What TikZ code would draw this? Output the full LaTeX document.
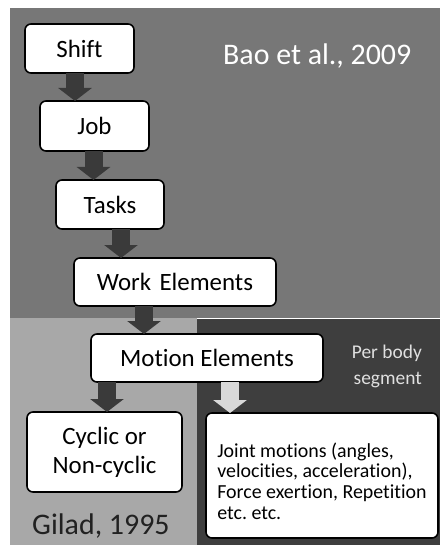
\documentclass[tikz,border=0pt]{standalone}
\usepackage{fontspec}
\setmainfont{Carlito}[Ligatures=CommonOff]
\frenchspacing
\usetikzlibrary{arrows.meta}
\definecolor{topgrey}{HTML}{777777}
\definecolor{leftgrey}{HTML}{A8A8A8}
\definecolor{rightdark}{HTML}{3E3E3E}
\definecolor{arrowdark}{HTML}{3A3A3A}
\definecolor{arrowlight}{HTML}{D9D9D9}
\definecolor{notegrey}{HTML}{E0E0E0}
\tikzset{
  stagebox/.style={draw=black, line width=1.6bp, fill=white, rounded corners=6bp,
    inner sep=0pt, outer sep=0pt, align=center,
    font=\fontsize{25}{29}\selectfont},
  fatarrow/.style={line width=18bp, draw=arrowdark,
    -{Triangle[width=33bp,length=13bp,fill=arrowdark]}},
  lightarrow/.style={line width=18bp, draw=arrowlight,
    -{Triangle[width=33bp,length=13bp,fill=arrowlight]}}
}
\begin{document}
\begin{tikzpicture}[x=1bp,y=-1bp]
\useasboundingbox (0,0) rectangle (440,545);
% background panels
\fill[topgrey] (10,8) rectangle (440,318);
\fill[leftgrey] (10,318) rectangle (197,545);
\fill[rightdark] (197,319) rectangle (440,545);

% hierarchy boxes
\node[stagebox, minimum width=109bp, minimum height=49bp] (shift) at (79.5,48.5) {Shift};
\node[stagebox, minimum width=109bp, minimum height=50bp] (job) at (94.5,126) {Job};
\node[stagebox, minimum width=108bp, minimum height=49bp] (tasks) at (110,204.5) {Tasks};
\node[stagebox, minimum width=202bp, minimum height=48bp] (work) at (175,282) {Work\,\,Elements};
\node[stagebox, minimum width=232bp, minimum height=48bp] (motion) at (207,358) {Motion Elements};
\node[stagebox, minimum width=155bp, minimum height=80bp] (cyclic) at (104.5,452) {Cyclic or\\Non-cyclic};
\node[stagebox, minimum width=232bp, minimum height=125bp, align=left,
      font=\fontsize{20}{21}\selectfont] (joint) at (322,475.5)
  {\rule{0pt}{26bp}Joint motions (angles,\\velocities, acceleration),\\Force exertion, Repetition\\etc. etc.};

% labels
\node[text=white, font=\fontsize{30}{34}\selectfont, anchor=base west, inner sep=0pt] (bao) at (223,65) {Bao et al., 2009};
\node[text=notegrey, font=\fontsize{19.5}{26}\selectfont, align=right, anchor=east, inner sep=0pt] (perbody) at (422,366) {Per body\\segment};
\node[text=black!87, font=\fontsize{30}{34}\selectfont, anchor=base west, inner sep=0pt] (gilad) at (32,534) {Gilad, 1995};

% connectors
\coordinate (c1) at ([xshift=-4.5bp]shift.south);
\coordinate (c2) at ([xshift=-1bp]job.south);
\coordinate (c3) at ([xshift=11bp]tasks.south);
\coordinate (c4) at ([xshift=-31bp]work.south);
\coordinate (c5) at ([xshift=-100bp]motion.south);
\coordinate (c6) at ([xshift=23bp]motion.south);
\draw[fatarrow] (c1) -- (c1 |- job.north);
\draw[fatarrow] (c2) -- (c2 |- tasks.north);
\draw[fatarrow] (c3) -- (c3 |- work.north);
\draw[fatarrow] (c4) -- (c4 |- motion.north);
\draw[fatarrow] (c5) -- (c5 |- cyclic.north);
\draw[lightarrow] (c6) -- (c6 |- joint.north);
\end{tikzpicture}
\end{document}
